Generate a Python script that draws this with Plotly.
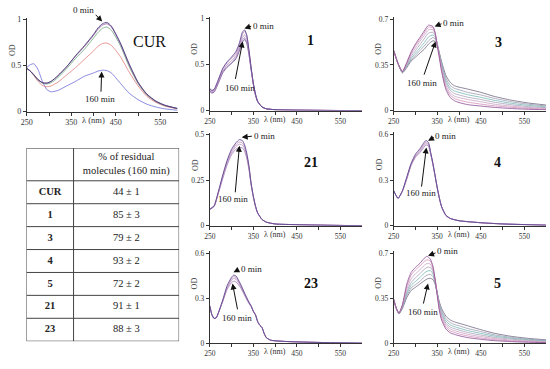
import plotly.graph_objects as go

W, H = 550, 369
FONT = "Liberation Serif, Times New Roman, DejaVu Serif, serif"

# ---------------- data ----------------
wl_cur = [250, 258, 266, 275, 285, 295, 305, 320, 340, 360, 380, 400, 410, 420, 430, 440, 460, 480, 500, 520, 540, 560, 588]
od_cur = [
    [.47, .44, .40, .35, .315, .31, .33, .39, .49, .61, .72, .84, .91, .955, .97, .93, .75, .52, .32, .19, .115, .07, .035],
    [.47, .44, .40, .35, .315, .31, .33, .39, .49, .605, .71, .83, .895, .94, .955, .92, .74, .51, .315, .185, .11, .068, .034],
    [.47, .44, .395, .345, .31, .30, .315, .37, .47, .58, .68, .80, .86, .905, .92, .885, .72, .49, .305, .18, .11, .066, .033],
    [.47, .44, .39, .33, .285, .27, .28, .32, .40, .48, .57, .66, .71, .74, .745, .72, .60, .43, .28, .165, .10, .06, .03],
    [.48, .51, .52, .46, .33, .24, .215, .23, .28, .33, .385, .42, .44, .45, .445, .42, .31, .20, .13, .08, .05, .03, .015],
]

wl_1 = [250, 255, 260, 270, 280, 290, 300, 310, 318, 325, 330, 335, 340, 345, 350, 355, 360, 370, 380, 400, 450, 520, 600]
od_1 = [
    [.24, .22, .23, .34, .46, .53, .58, .64, .73, .85, .875, .82, .66, .47, .30, .18, .10, .04, .02, .01, .005, .002, 0],
    [.235, .215, .225, .33, .45, .52, .565, .62, .715, .825, .86, .81, .655, .465, .30, .18, .10, .04, .02, .01, .005, .002, 0],
    [.225, .205, .215, .32, .43, .50, .54, .595, .69, .79, .82, .78, .64, .46, .295, .175, .10, .04, .02, .01, .005, .002, 0],
    [.215, .195, .205, .31, .42, .48, .52, .575, .665, .76, .79, .75, .62, .45, .29, .175, .10, .04, .02, .01, .005, .002, 0],
    [.21, .19, .20, .30, .41, .47, .51, .56, .645, .74, .77, .73, .61, .445, .29, .17, .10, .04, .02, .01, .005, .002, 0],
]

wl_21 = [250, 260, 270, 280, 290, 300, 310, 318, 325, 330, 335, 340, 345, 350, 355, 360, 370, 380, 400, 450, 520, 600]
od_21 = [
    [.09, .11, .19, .28, .36, .42, .455, .473, .468, .445, .40, .33, .235, .165, .11, .072, .035, .02, .01, .006, .003, 0],
    [.09, .11, .185, .275, .355, .41, .445, .46, .455, .435, .39, .325, .232, .163, .109, .071, .035, .02, .01, .006, .003, 0],
    [.09, .108, .183, .27, .345, .40, .435, .448, .443, .425, .382, .32, .229, .161, .108, .07, .035, .02, .01, .006, .003, 0],
    [.09, .105, .18, .26, .335, .39, .42, .43, .428, .41, .37, .31, .225, .158, .106, .069, .035, .02, .01, .006, .003, 0],
]

wl_23 = [250, 255, 260, 265, 270, 280, 290, 300, 305, 310, 320, 330, 340, 345, 350, 355, 360, 365, 370, 375, 380, 390, 420, 470, 530, 600]
od_23 = [
    [.25, .19, .165, .17, .205, .29, .385, .44, .455, .45, .40, .335, .275, .25, .215, .19, .145, .12, .105, .065, .037, .02, .012, .007, .003, 0],
    [.25, .19, .165, .17, .204, .287, .378, .43, .445, .44, .393, .33, .272, .248, .214, .19, .145, .12, .105, .065, .037, .02, .012, .007, .003, 0],
    [.25, .19, .165, .17, .203, .283, .37, .42, .433, .428, .385, .325, .27, .247, .213, .19, .145, .12, .105, .065, .037, .02, .012, .007, .003, 0],
    [.25, .19, .165, .17, .202, .28, .36, .405, .415, .41, .375, .32, .265, .245, .212, .19, .145, .12, .105, .065, .037, .02, .012, .007, .003, 0],
]

wl_3 = [250, 260, 270, 280, 290, 300, 310, 320, 330, 340, 345, 350, 355, 360, 370, 380, 390, 400, 420, 450, 480, 520, 560, 600]
od_3 = [
    [.46, .36, .30, .37, .45, .51, .56, .61, .655, .645, .60, .50, .40, .30, .16, .10, .075, .062, .046, .035, .025, .016, .01, .007],
    [.46, .36, .30, .365, .44, .50, .545, .595, .64, .635, .595, .505, .41, .315, .175, .118, .093, .08, .065, .05, .037, .025, .017, .012],
    [.46, .36, .30, .36, .43, .48, .53, .575, .62, .62, .59, .51, .42, .33, .19, .135, .11, .10, .085, .068, .05, .034, .024, .017],
    [.46, .36, .295, .35, .415, .46, .505, .55, .595, .60, .578, .512, .43, .345, .21, .155, .13, .12, .103, .085, .065, .045, .031, .022],
    [.46, .36, .295, .345, .40, .44, .48, .52, .565, .58, .565, .51, .435, .355, .228, .172, .15, .14, .122, .102, .08, .056, .04, .029],
    [.46, .36, .29, .34, .39, .425, .46, .495, .535, .56, .55, .505, .437, .365, .248, .192, .17, .16, .14, .12, .095, .068, .049, .036],
    [.46, .36, .29, .33, .38, .41, .44, .47, .51, .535, .53, .495, .44, .375, .27, .215, .19, .18, .165, .14, .11, .08, .058, .043],
]

wl_4 = [250, 255, 260, 270, 280, 290, 300, 310, 318, 324, 330, 335, 340, 345, 350, 355, 360, 370, 380, 400, 450, 500, 600]
od_4 = [
    [.23, .20, .18, .23, .32, .41, .47, .505, .54, .56, .545, .48, .41, .33, .25, .18, .125, .068, .048, .033, .02, .012, .004],
    [.23, .20, .18, .23, .315, .405, .46, .495, .53, .55, .537, .476, .408, .329, .25, .18, .125, .068, .048, .033, .02, .012, .004],
    [.23, .20, .18, .228, .31, .40, .455, .487, .52, .54, .53, .472, .405, .328, .249, .18, .125, .068, .048, .033, .02, .012, .004],
    [.23, .20, .18, .226, .305, .395, .45, .48, .51, .53, .522, .468, .402, .326, .248, .18, .125, .068, .048, .033, .02, .012, .004],
]

wl_5 = [250, 256, 262, 270, 280, 290, 300, 310, 320, 327, 334, 340, 345, 350, 355, 360, 370, 380, 390, 400, 420, 450, 480, 520, 560, 600]
od_5 = [
    [.34, .27, .235, .30, .46, .55, .59, .62, .66, .675, .655, .60, .50, .37, .25, .18, .11, .08, .068, .058, .043, .03, .02, .012, .007, .004],
    [.34, .27, .234, .295, .44, .53, .57, .60, .635, .648, .64, .59, .50, .38, .265, .195, .125, .095, .083, .072, .056, .04, .028, .018, .011, .007],
    [.34, .27, .233, .29, .42, .50, .54, .57, .605, .62, .615, .575, .495, .385, .275, .21, .14, .11, .097, .087, .069, .051, .037, .024, .016, .01],
    [.34, .27, .232, .285, .40, .47, .51, .54, .575, .59, .59, .56, .49, .39, .285, .225, .155, .125, .112, .102, .083, .063, .046, .031, .021, .014],
    [.34, .27, .231, .28, .385, .45, .48, .51, .545, .56, .565, .54, .48, .39, .295, .24, .172, .142, .128, .117, .098, .076, .056, .038, .026, .018],
    [.34, .27, .23, .275, .37, .43, .455, .48, .515, .53, .535, .52, .47, .39, .305, .255, .19, .16, .145, .135, .114, .09, .066, .045, .031, .022],
    [.34, .27, .228, .27, .355, .41, .435, .46, .485, .50, .505, .495, .46, .39, .32, .27, .21, .18, .165, .155, .135, .105, .078, .053, .037, .026],
]

x_ticks = [250, 350, 450, 550]
x_minor = [300, 400, 500]

compounds = ["CUR", "1", "3", "4", "5", "21", "23"]
residual = ["44 ± 1", "85 ± 3", "79 ± 2", "93 ± 2", "72 ± 2", "91 ± 1", "88 ± 3"]
header_text = "% of residual<br>molecules (160 min)"

# ---------------- styling ----------------
cur_colors = ["#3b2f72", "#8e4f94", "#69a57c", "#e27c7c", "#6c6cd8"]
pur_colors = ["#4b3a8c", "#c48ab5", "#b58fc0", "#9b78b2", "#6a4a90"]
mix_colors = ["#8a4d94", "#d48fb8", "#c7a3c4", "#a8a0b8", "#72b7b5", "#9b9bb0", "#6e6680"]


def fx(p):
    return p / W


def fy(p):
    return 1 - p / H


# name, wl, curves, colors, x0px, x1px, xmax, ybot, ytop, ymax, yticks, labelpos, bold, arrows...
panels = [
    ("CUR", wl_cur, od_cur, cur_colors, 21, 174, 590, 111, 15.1, 1.02, [0, 0.5, 1], (145, 39), False,
     (78.3, 6.7), (89.3, 10.7), (97.3, 19), (94.7, 98.3), (96, 91.7), (96.7, 70)),
    ("1", wl_1, od_1, pur_colors, 206, 360, 600, 110, 13.8, 1.02, [0, 0.5, 1], (308, 38), True,
     (260, 23), (249.3, 23.3), (241, 26), (237, 87.3), (231.7, 78.3), (239.3, 39.3)),
    ("3", wl_3, od_3, mix_colors, 392, 546, 600, 110, 14, 0.72, [0, 0.35, 0.7], (498, 40), True,
     (452.3, 20), (441.7, 20.7), (433.3, 24), (421, 81.7), (422.3, 74), (434.3, 39.3)),
    ("21", wl_21, od_21, pur_colors, 206, 360, 600, 227.7, 132.8, 0.51, [0, 0.25, 0.5], (308, 163), True,
     (261.3, 136.3), (250, 136), (238.3, 137.3), (230, 200.7), (231.7, 194), (236, 146)),
    ("4", wl_4, od_4, pur_colors, 392, 546, 600, 227.7, 131.9, 0.615, [0, 0.3, 0.6], (497, 163), True,
     (444.7, 135.7), (434, 136.7), (426.7, 140.7), (419.5, 194), (420, 188.3), (425, 147.7)),
    ("23", wl_23, od_23, pur_colors, 206, 360, 600, 347.7, 253.7, 0.615, [0, 0.3, 0.6], (308, 287), True,
     (248, 272.3), (235.7, 272.3), (230, 275.3), (233.3, 321.7), (234.3, 314), (229, 286.7)),
    ("5", wl_5, od_5, mix_colors, 392, 546, 600, 347.7, 253.1, 0.72, [0, 0.35, 0.7], (497, 287), True,
     (446.3, 254), (435.7, 255), (426.7, 258.3), (421.2, 316), (421.7, 308.3), (426.7, 286.7)),
]

fig = go.Figure()
layout = dict(
    width=W, height=H, margin=dict(l=0, r=0, t=0, b=0),
    paper_bgcolor="white", plot_bgcolor="white", showlegend=False,
    font=dict(family=FONT, color="#222"),
)
annotations = []
shapes = []

axis_common = dict(showline=True, linecolor="#333", linewidth=1, ticks="outside", ticklen=3,
                   tickwidth=1, tickcolor="#333", showgrid=False, zeroline=False)

for i, p in enumerate(panels):
    (name, wl, curves, colors, x0, x1, xmax, yb, yt, ymax, yticks, lpos, bold,
     t0, a0t, a0h, t1, a1t, a1h) = p
    sfx = "" if i == 0 else str(i + 1)
    n = len(curves)
    for j in reversed(range(n)):
        fig.add_trace(go.Scatter(
            x=wl, y=curves[j], mode="lines", xaxis="x" + sfx, yaxis="y" + sfx,
            line=dict(color=colors[j], width=0.8, shape="spline", smoothing=0.6),
            hoverinfo="skip", showlegend=False))
    fsz = 8 if i == 0 else 7.5
    layout["xaxis" + sfx] = dict(axis_common, domain=[fx(x0), fx(x1)], range=[250, xmax],
                                 anchor="y" + sfx, tickmode="array", tickvals=x_ticks,
                                 tickfont=dict(family=FONT, size=fsz, color="#333"),
                                 minor=dict(tickvals=x_minor, ticks="outside", ticklen=3, tickcolor="#333"))
    layout["yaxis" + sfx] = dict(axis_common, domain=[fy(yb), fy(yt)], range=[0, ymax],
                                 anchor="x" + sfx, tickmode="array", tickvals=yticks,
                                 tickfont=dict(family=FONT, size=fsz, color="#333"))
    annotations.append(dict(text="λ (nm)", x=fx(x0 + (400 - 250) * (x1 - x0) / (xmax - 250)), y=fy(yb + 9),
                            xref="paper", yref="paper", showarrow=False, xanchor="center", yanchor="middle",
                            font=dict(family=FONT, size=8.5 if i == 0 else 8, color="#333")))
    annotations.append(dict(text="OD", x=fx(x0 - 15), y=fy(yt + 33), xref="paper", yref="paper",
                            showarrow=False, textangle=-90, xanchor="center", yanchor="middle",
                            font=dict(family=FONT, size=8, color="#333")))
    annotations.append(dict(text=("<b>%s</b>" % name) if bold else name, x=fx(lpos[0]), y=fy(lpos[1]),
                            xref="paper", yref="paper", showarrow=False, xanchor="center", yanchor="middle",
                            font=dict(family=FONT, size=14 if bold else 16, color="#111")))
    for txt, tp, tail, head in (("0 min", t0, a0t, a0h), ("160 min", t1, a1t, a1h)):
        annotations.append(dict(text=txt, x=fx(tp[0]), y=fy(tp[1]), xref="paper", yref="paper",
                                showarrow=False, xanchor="center", yanchor="middle",
                                font=dict(family=FONT, size=9, color="#222")))
        annotations.append(dict(text="", x=fx(head[0]), y=fy(head[1]),
                                ax=tail[0] - head[0], ay=tail[1] - head[1],
                                xref="paper", yref="paper", axref="pixel", ayref="pixel",
                                showarrow=True, arrowhead=2, arrowsize=1.2, arrowwidth=1, arrowcolor="#111",
                                standoff=0, startstandoff=0))

# ---------------- table (drawn on a hidden axis pair) ----------------
hdr = 33.4 / 23.4                 # header height in row units
nrow = len(compounds)
c1 = (68.3 - 20.7) / (175 - 20.7)  # first column boundary
layout["xaxis8"] = dict(domain=[fx(20.7), fx(175)], range=[0, 1], visible=False, anchor="y8", fixedrange=True)
layout["yaxis8"] = dict(domain=[fy(345.7), fy(148.3)], range=[hdr + nrow, 0], visible=False, anchor="x8",
                        fixedrange=True)
line_style = dict(color="#444", width=1)
shapes.append(dict(type="rect", xref="x8", yref="y8", x0=0, x1=1, y0=0, y1=hdr + nrow, line=line_style))
shapes.append(dict(type="line", xref="x8", yref="y8", x0=c1, x1=c1, y0=0, y1=hdr + nrow, line=line_style))
for k in range(nrow):
    shapes.append(dict(type="line", xref="x8", yref="y8", x0=0, x1=1, y0=hdr + k, y1=hdr + k, line=line_style))

row_y = [hdr + k + 0.5 for k in range(nrow)]
fig.add_trace(go.Scatter(x=[c1 / 2] * nrow, y=row_y, mode="text", xaxis="x8", yaxis="y8",
                         text=["<b>%s</b>" % c for c in compounds],
                         textfont=dict(family=FONT, size=10.5, color="#222"), hoverinfo="skip"))
fig.add_trace(go.Scatter(x=[(c1 + 1) / 2] * nrow, y=row_y, mode="text", xaxis="x8", yaxis="y8",
                         text=residual, textfont=dict(family=FONT, size=10.5, color="#222"), hoverinfo="skip"))
fig.add_trace(go.Scatter(x=[(c1 + 1) / 2], y=[hdr / 2], mode="text", xaxis="x8", yaxis="y8",
                         text=[header_text], textfont=dict(family=FONT, size=10.5, color="#222"),
                         hoverinfo="skip"))

layout["annotations"] = annotations
layout["shapes"] = shapes
fig.update_layout(**layout)
fig.write_html("out.html", config=dict(displayModeBar=False),
               post_script="document.body.style.margin='0px';document.body.style.overflow='hidden';")
